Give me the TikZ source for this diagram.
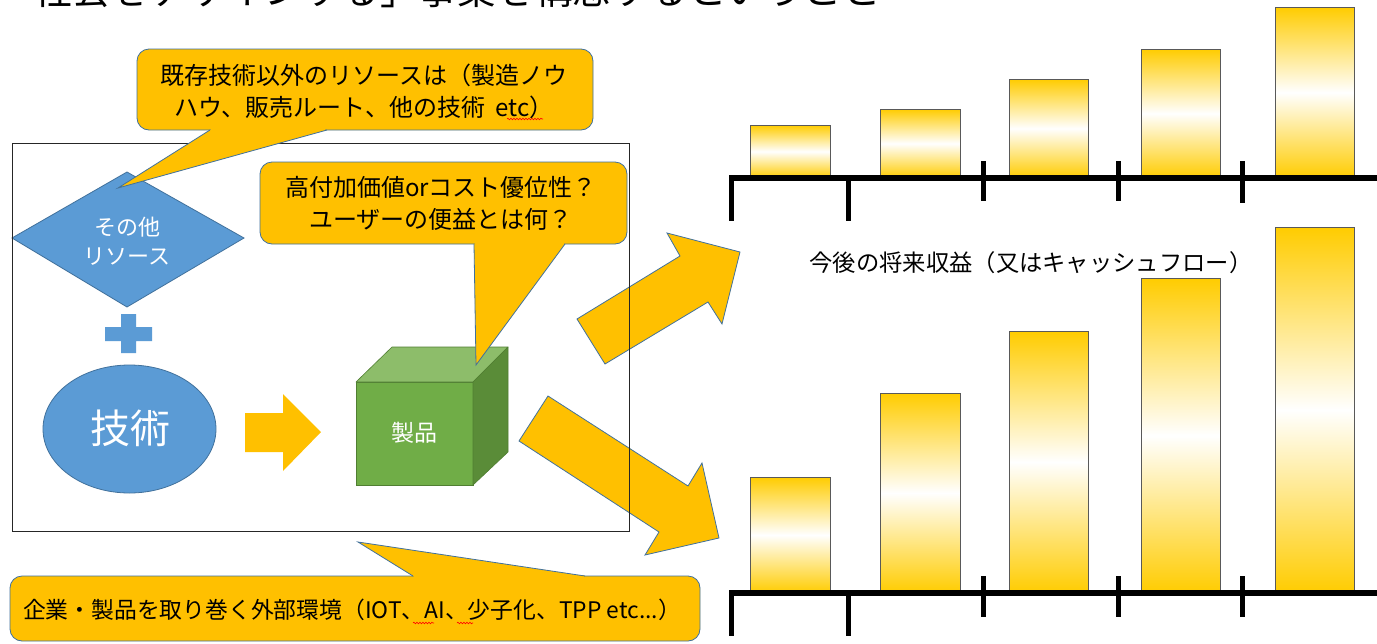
\documentclass[tikz,border=0pt]{standalone}
\usepackage{fontspec}
\newfontfamily\jp{Noto Sans CJK JP}
\usetikzlibrary{decorations.pathmorphing}
\definecolor{gold}{HTML}{FFC000}
\definecolor{edgeblue}{HTML}{41719C}
\definecolor{fillblue}{HTML}{5B9BD5}
\definecolor{barGold}{HTML}{FFCC00}
\definecolor{barEdge}{HTML}{595959}
\definecolor{cubeFront}{HTML}{70AD47}
\definecolor{cubeTop}{HTML}{8DBD6A}
\definecolor{cubeSide}{HTML}{5A8C38}
\definecolor{cubeEdge}{HTML}{507E32}
\begin{document}
\begin{tikzpicture}[x=1pt,y=-1pt,
  bubble/.style={fill=gold, draw=edgeblue, line width=0.8pt, rounded corners=12pt},
  tailfill/.style={fill=gold},
  tailedge/.style={draw=edgeblue, line width=0.8pt, line join=miter},
  blockarrow/.style={fill=gold, draw=edgeblue, line width=0.8pt, line join=miter},
  bluefill/.style={fill=fillblue, draw=edgeblue, line width=0.8pt},
  barbox/.style={draw=barEdge, line width=0.9pt, top color=barGold, bottom color=barGold, middle color=white},
  axisline/.style={line width=6pt, line cap=butt},
  tickline/.style={line width=5pt, line cap=butt},
  txt/.style={font=\jp\fontsize{24}{32}\selectfont, align=center, inner sep=0pt, text=black},
  wtxt/.style={font=\jp\fontsize{22}{29}\selectfont, align=center, inner sep=0pt, text=white},
  squiggle/.style={draw=red, line width=0.6pt, decorate, decoration={snake, amplitude=0.8pt, segment length=3pt}}
]
\useasboundingbox (0,0) rectangle (1377,643);
\clip (0,0) rectangle (1377,643);
\fill[white] (0,0) rectangle (1377,643);

% title (cut off at top)
\node[anchor=base west, inner sep=0pt, font=\jp\fontsize{38.5}{40}\selectfont] (title) at (33.5,4.5) {社会をデザインする」事業を構想するということ};

% ---------- top chart ----------
\draw[barbox] (750,125) rectangle (830,178);
\draw[barbox] (880,109) rectangle (960,178);
\draw[barbox] (1009,79) rectangle (1088,178);
\draw[barbox] (1141,49) rectangle (1220,178);
\draw[barbox] (1275,7) rectangle (1354,178);
\draw[axisline] (731,178) -- (1380,178);
\draw[tickline] (731,175) -- (731,221);
\draw[tickline] (848,178) -- (848,221);
\draw[tickline] (983,161) -- (983,201);
\draw[tickline] (1118,161) -- (1118,201);
\draw[tickline] (1242,161) -- (1242,203);

% ---------- bottom chart ----------
\draw[barbox] (750,477) rectangle (830,593);
\draw[barbox] (880,393) rectangle (960,593);
\draw[barbox] (1009,331) rectangle (1088,593);
\draw[barbox] (1141,278) rectangle (1220,593);
\draw[barbox] (1275,227) rectangle (1354,593);
\draw[axisline] (731,593) -- (1380,593);
\draw[tickline] (731,590) -- (731,636);
\draw[tickline] (848,593) -- (848,636);
\draw[tickline] (983,576) -- (983,617);
\draw[tickline] (1118,576) -- (1118,617);
\draw[tickline] (1242,576) -- (1242,617);

\node[txt, font=\jp\fontsize{23.3}{28}\selectfont] (cflabel) at (1031,263) {今後の将来収益（又はキャッシュフロー）};

% ---------- big arrows ----------
\draw[blockarrow] (605,364) -- (708,302) -- (722,324) -- (740,252) -- (667,233) -- (680,256) -- (577,319) -- cycle;
\draw[blockarrow] (548,396) -- (688,486) -- (702,463) -- (719,538) -- (645,555) -- (659,532) -- (519,441) -- cycle;

% ---------- left block ----------
\draw[bluefill] (127,172) -- (244,238) -- (127,307) -- (12,238) -- cycle;
\node[wtxt] (other) at (127,241.5) {その他\\リソース};

\fill[fillblue] (121,314) -- (136,314) -- (136,327) -- (152,327) -- (152,341) -- (136,341) -- (136,353) -- (121,353) -- (121,341) -- (105,341) -- (105,327) -- (121,327) -- cycle;

\draw[bluefill] (129.5,429) ellipse [x radius=86.5, y radius=64];
\node[wtxt, font=\jp\fontsize{40}{44}\selectfont] (tech) at (130,428) {技術};

\fill[gold] (245,413) -- (283,413) -- (283,394) -- (321,432) -- (283,471) -- (283,452) -- (245,452) -- cycle;

% cube
\draw[fill=cubeFront, draw=cubeEdge, line width=0.6pt] (356,382) rectangle (473,485);
\draw[fill=cubeTop, draw=cubeEdge, line width=0.6pt, line join=round] (356,382) -- (392,347) -- (508,347) -- (473,382) -- cycle;
\draw[fill=cubeSide, draw=cubeEdge, line width=0.6pt, line join=round] (473,382) -- (508,347) -- (508,452) -- (473,485) -- cycle;
\node[wtxt, font=\jp\fontsize{23}{28}\selectfont] (product) at (414,433) {製品};

% frame
\draw[black!85, line width=0.8pt] (12,143) rectangle (629,531);

% ---------- bubble 2 ----------
\draw[bubble] (260,162) rectangle (627,244);
\fill[tailfill] (474,244) -- (476,365) -- (565,244) -- cycle;
\fill[tailfill] (475,241) rectangle (564,245);
\draw[tailedge] (474,244) -- (476,365) -- (565,244);
\node[txt] (b2text) at (441,203) {高付加価値orコスト優位性？\\ユーザーの便益とは何？};

% ---------- bubble 1 ----------
\draw[bubble] (137,49) rectangle (593,130);
\fill[tailfill] (210,130) -- (118,188) -- (327,130) -- cycle;
\fill[tailfill] (211,127) rectangle (325,131);
\draw[tailedge] (210,130) -- (118,188) -- (327,130);
\node[txt] (b1text) at (364,91) {既存技術以外のリソースは（製造ノウ\\ハウ、販売ルート、他の技術\ \ etc）};
\draw[squiggle] (507,119) -- (543,119);

% ---------- bubble 3 ----------
\draw[bubble] (10,576) rectangle (700,641);
\fill[tailfill] (413,576) -- (358,542) -- (585,576) -- cycle;
\fill[tailfill] (414,575) rectangle (584,579);
\draw[tailedge] (413,576) -- (358,542) -- (585,576);
\node[txt, font=\jp\fontsize{22.8}{28}\selectfont] (b3text) at (352,610) {企業・製品を取り巻く外部環境（IOT、AI、少子化、TPP etc...）};
\draw[squiggle] (413,623) -- (434,623);
\draw[squiggle] (457,623) -- (473,623);
\end{tikzpicture}
\end{document}
